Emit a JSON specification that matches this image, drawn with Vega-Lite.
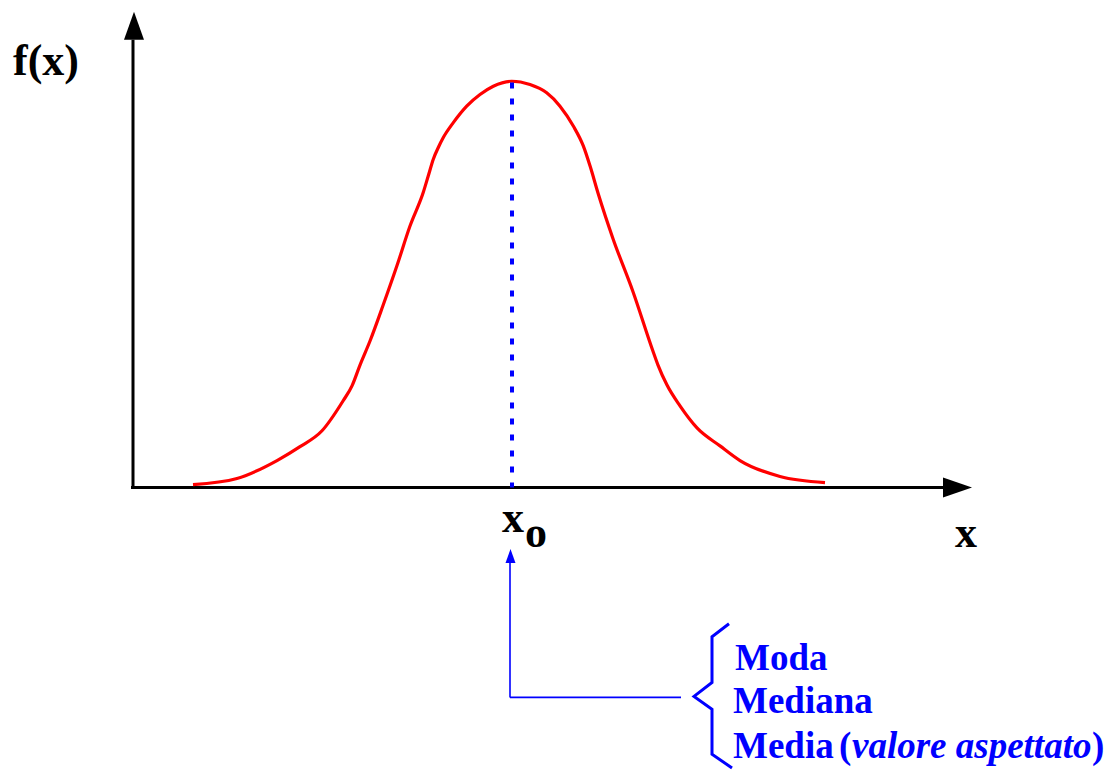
{
  "$schema": "https://vega.github.io/schema/vega-lite/v6.json",
  "width": 1114,
  "height": 775,
  "padding": 0,
  "autosize": {"type": "fit", "contains": "padding"},
  "background": "white",
  "config": {"view": {"stroke": null}},
  "datasets": {
    "curve": [
      {"u": -3.19, "f": 0.007}, {"u": -2.75, "f": 0.022}, {"u": -2.35, "f": 0.066}, {"u": -2.12, "f": 0.100},
      {"u": -1.90, "f": 0.139}, {"u": -1.69, "f": 0.212}, {"u": -1.60, "f": 0.249}, {"u": -1.52, "f": 0.300},
      {"u": -1.42, "f": 0.359}, {"u": -1.29, "f": 0.446}, {"u": -1.15, "f": 0.544}, {"u": -1.02, "f": 0.641},
      {"u": -0.887, "f": 0.7237}, {"u": -0.837, "f": 0.7642}, {"u": -0.787, "f": 0.8049}, {"u": -0.737, "f": 0.8334},
      {"u": -0.687, "f": 0.8578}, {"u": -0.587, "f": 0.8944}, {"u": -0.453, "f": 0.9349}, {"u": -0.32, "f": 0.9634},
      {"u": -0.187, "f": 0.9837}, {"u": -0.003, "f": 0.9959}, {"u": 0.18, "f": 0.9878}, {"u": 0.347, "f": 0.9676},
      {"u": 0.48, "f": 0.9349}, {"u": 0.613, "f": 0.8861}, {"u": 0.713, "f": 0.8373}, {"u": 0.78, "f": 0.7885},
      {"u": 0.863, "f": 0.7195}, {"u": 1.01, "f": 0.610}, {"u": 1.21, "f": 0.480}, {"u": 1.41, "f": 0.334},
      {"u": 1.46, "f": 0.300}, {"u": 1.55, "f": 0.251}, {"u": 1.68, "f": 0.200}, {"u": 1.85, "f": 0.146},
      {"u": 2.08, "f": 0.102}, {"u": 2.28, "f": 0.066}, {"u": 2.68, "f": 0.027}, {"u": 3.13, "f": 0.012}
    ],
    "axes": [
      {"u": -3.79, "f": 0, "u2": -3.79, "f2": 1.0976},
      {"u": -3.81, "f": 0, "u2": 4.33, "f2": 0}
    ],
    "blueLines": [
      {"u": -0.02, "f": -0.5146, "u2": -0.02, "f2": -0.1854},
      {"u": -0.02, "f": -0.5146, "u2": 1.69, "f2": -0.5146}
    ],
    "brace": [
      {"o": 1, "u": 2.17, "f": -0.3341}, {"o": 2, "u": 2.00, "f": -0.3659}, {"o": 3, "u": 2.00, "f": -0.4780},
      {"o": 4, "u": 1.82, "f": -0.5122}, {"o": 5, "u": 2.00, "f": -0.5439}, {"o": 6, "u": 2.00, "f": -0.6537},
      {"o": 7, "u": 2.20, "f": -0.6878}
    ],
    "blackText": [
      {"label": "f(x)", "u": -4.99, "f": 1.0122},
      {"label": "x", "u": 4.43, "f": -0.1463},
      {"label": "x", "u": -0.10, "f": -0.1098},
      {"label": "o", "u": 0.13, "f": -0.1463}
    ],
    "blueText": [
      {"label": "Moda", "u": 2.23, "f": -0.4463},
      {"label": "Mediana", "u": 2.21, "f": -0.5537},
      {"label": "Media", "u": 2.21, "f": -0.6634},
      {"label": "(", "u": 3.27, "f": -0.6634},
      {"label": ")", "u": 5.80, "f": -0.6634}
    ],
    "blueItalic": [
      {"label": "valore aspettato", "u": 3.40, "f": -0.6634}
    ]
  },
  "encoding": {
    "x": {"field": "u", "type": "quantitative", "axis": null, "scale": {"domain": [-5.12, 6.02], "nice": false, "zero": false}},
    "y": {"field": "f", "type": "quantitative", "axis": null, "scale": {"domain": [-0.6951, 1.1951], "nice": false, "zero": false}}
  },
  "layer": [
    {
      "data": {"name": "axes"},
      "mark": {"type": "rule", "color": "black", "strokeWidth": 3},
      "encoding": {"x2": {"field": "u2"}, "y2": {"field": "f2"}}
    },
    {
      "data": {"values": [{"u": -3.78, "f": 1.1317}]},
      "mark": {"type": "point", "shape": "M0,-1L-0.714,1L0.714,1Z", "size": 784, "filled": true, "color": "black", "opacity": 1, "strokeWidth": 0}
    },
    {
      "data": {"values": [{"u": 4.455, "f": 0}]},
      "mark": {"type": "point", "shape": "M1,0L-1,-0.69L-1,0.69Z", "size": 841, "filled": true, "color": "black", "opacity": 1, "strokeWidth": 0}
    },
    {
      "data": {"name": "curve"},
      "mark": {"type": "line", "color": "#ff0000", "strokeWidth": 3.2, "interpolate": "monotone"}
    },
    {
      "data": {"values": [{"u": 0, "f": 0.9927, "f2": 0}]},
      "mark": {"type": "rule", "color": "#0000ff", "strokeWidth": 4, "strokeDash": [6, 10]},
      "encoding": {"y2": {"field": "f2"}}
    },
    {
      "data": {"name": "blueLines"},
      "mark": {"type": "rule", "color": "#0000ff", "strokeWidth": 1.6},
      "encoding": {"x2": {"field": "u2"}, "y2": {"field": "f2"}}
    },
    {
      "data": {"values": [{"u": -0.015, "f": -0.1683}]},
      "mark": {"type": "point", "shape": "M0,-1L-0.714,1L0.714,1Z", "size": 196, "filled": true, "color": "#0000ff", "opacity": 1, "strokeWidth": 0}
    },
    {
      "data": {"name": "brace"},
      "mark": {"type": "line", "color": "#0000ff", "strokeWidth": 3},
      "encoding": {"order": {"field": "o", "type": "quantitative"}}
    },
    {
      "data": {"name": "blackText"},
      "mark": {"type": "text", "align": "left", "baseline": "alphabetic", "font": "Liberation Serif, Times New Roman, Times, serif", "fontWeight": "bold", "fontSize": 44, "color": "black"},
      "encoding": {"text": {"field": "label"}}
    },
    {
      "data": {"name": "blueText"},
      "mark": {"type": "text", "align": "left", "baseline": "alphabetic", "font": "Liberation Serif, Times New Roman, Times, serif", "fontWeight": "bold", "fontSize": 37, "color": "#0000ff"},
      "encoding": {"text": {"field": "label"}}
    },
    {
      "data": {"name": "blueItalic"},
      "mark": {"type": "text", "align": "left", "baseline": "alphabetic", "font": "Liberation Serif, Times New Roman, Times, serif", "fontWeight": "bold", "fontStyle": "italic", "fontSize": 37, "color": "#0000ff"},
      "encoding": {"text": {"field": "label"}}
    }
  ]
}
